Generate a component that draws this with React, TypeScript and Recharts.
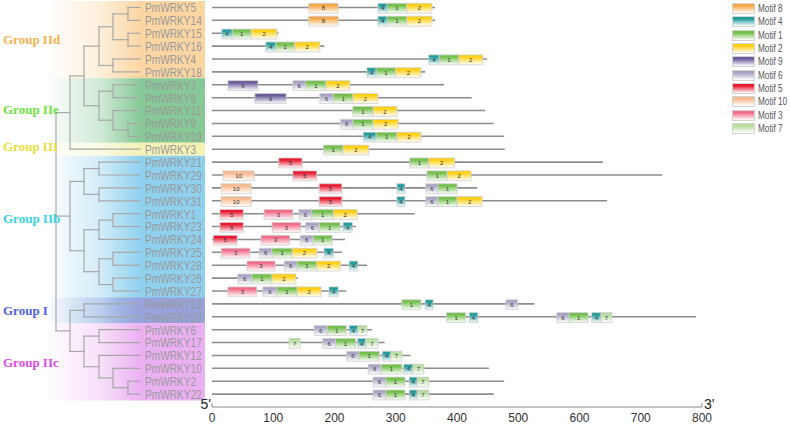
import React from "react";
import {
  ComposedChart,
  XAxis,
  YAxis,
  Scatter,
  ReferenceArea,
  ReferenceLine,
  ReferenceDot,
} from "recharts";

// gene order (top to bottom)
const genes = [
  "PmWRKY5", "PmWRKY14", "PmWRKY15", "PmWRKY16", "PmWRKY4", "PmWRKY18",
  "PmWRKY7", "PmWRKY8", "PmWRKY11", "PmWRKY9", "PmWRKY19", "PmWRKY3",
  "PmWRKY21", "PmWRKY29", "PmWRKY30", "PmWRKY31", "PmWRKY1", "PmWRKY23",
  "PmWRKY24", "PmWRKY25", "PmWRKY28", "PmWRKY26", "PmWRKY27", "PmWRKY13",
  "PmWRKY20", "PmWRKY6", "PmWRKY17", "PmWRKY12", "PmWRKY10", "PmWRKY2",
  "PmWRKY22",
];

const proteinLengths = [
  364, 364, 109, 183, 449, 348, 379, 424, 446, 460, 477, 478, 638, 735, 433,
  645, 331, 235, 217, 212, 253, 140, 219, 526, 790, 261, 282, 324, 452, 477,
  460,
];

// [gene, motif, start, end]
const motifHits: [string, number, number, number][] = [
  ["PmWRKY5", 8, 158, 206], ["PmWRKY5", 4, 271, 286], ["PmWRKY5", 1, 286, 318], ["PmWRKY5", 2, 318, 359],
  ["PmWRKY14", 8, 158, 206], ["PmWRKY14", 4, 271, 286], ["PmWRKY14", 1, 286, 318], ["PmWRKY14", 2, 318, 359],
  ["PmWRKY15", 4, 16, 33], ["PmWRKY15", 1, 33, 64], ["PmWRKY15", 2, 64, 106],
  ["PmWRKY16", 4, 88, 104], ["PmWRKY16", 1, 104, 135], ["PmWRKY16", 2, 135, 176],
  ["PmWRKY4", 4, 354, 371], ["PmWRKY4", 1, 371, 403], ["PmWRKY4", 2, 403, 442],
  ["PmWRKY18", 4, 253, 268], ["PmWRKY18", 1, 268, 300], ["PmWRKY18", 2, 300, 341],
  ["PmWRKY7", 9, 26, 75], ["PmWRKY7", 6, 132, 153], ["PmWRKY7", 1, 153, 186], ["PmWRKY7", 2, 186, 225],
  ["PmWRKY8", 9, 70, 121], ["PmWRKY8", 6, 176, 198], ["PmWRKY8", 1, 198, 230], ["PmWRKY8", 2, 230, 271],
  ["PmWRKY11", 1, 230, 263], ["PmWRKY11", 2, 263, 302],
  ["PmWRKY9", 6, 210, 230], ["PmWRKY9", 1, 230, 263], ["PmWRKY9", 2, 263, 304],
  ["PmWRKY19", 4, 247, 268], ["PmWRKY19", 1, 268, 302], ["PmWRKY19", 2, 302, 341],
  ["PmWRKY3", 1, 182, 214], ["PmWRKY3", 2, 214, 256],
  ["PmWRKY21", 5, 109, 147], ["PmWRKY21", 1, 323, 354], ["PmWRKY21", 2, 354, 396],
  ["PmWRKY29", 10, 18, 69], ["PmWRKY29", 5, 132, 171], ["PmWRKY29", 1, 351, 384], ["PmWRKY29", 2, 384, 423],
  ["PmWRKY30", 10, 15, 64], ["PmWRKY30", 5, 175, 212], ["PmWRKY30", 4, 302, 315], ["PmWRKY30", 6, 349, 369], ["PmWRKY30", 1, 369, 400],
  ["PmWRKY31", 10, 15, 64], ["PmWRKY31", 5, 175, 212], ["PmWRKY31", 4, 302, 315], ["PmWRKY31", 6, 349, 369], ["PmWRKY31", 1, 369, 400], ["PmWRKY31", 2, 400, 441],
  ["PmWRKY1", 5, 13, 51], ["PmWRKY1", 3, 85, 132], ["PmWRKY1", 6, 142, 163], ["PmWRKY1", 1, 163, 198], ["PmWRKY1", 2, 198, 237],
  ["PmWRKY23", 5, 13, 51], ["PmWRKY23", 3, 98, 145], ["PmWRKY23", 6, 153, 175], ["PmWRKY23", 1, 175, 209], ["PmWRKY23", 4, 214, 229],
  ["PmWRKY24", 5, 2, 41], ["PmWRKY24", 3, 80, 127], ["PmWRKY24", 6, 144, 165], ["PmWRKY24", 1, 165, 196],
  ["PmWRKY25", 3, 15, 62], ["PmWRKY25", 6, 77, 98], ["PmWRKY25", 1, 98, 131], ["PmWRKY25", 2, 131, 171], ["PmWRKY25", 4, 183, 198],
  ["PmWRKY28", 3, 57, 103], ["PmWRKY28", 6, 118, 139], ["PmWRKY28", 1, 139, 171], ["PmWRKY28", 2, 171, 210], ["PmWRKY28", 4, 224, 238],
  ["PmWRKY26", 6, 42, 65], ["PmWRKY26", 1, 65, 98], ["PmWRKY26", 2, 98, 137],
  ["PmWRKY27", 3, 26, 73], ["PmWRKY27", 6, 83, 106], ["PmWRKY27", 1, 106, 139], ["PmWRKY27", 2, 139, 178], ["PmWRKY27", 4, 191, 206],
  ["PmWRKY13", 1, 310, 341], ["PmWRKY13", 4, 348, 361], ["PmWRKY13", 6, 480, 499],
  ["PmWRKY20", 1, 383, 414], ["PmWRKY20", 4, 420, 434], ["PmWRKY20", 6, 563, 583], ["PmWRKY20", 1, 583, 614], ["PmWRKY20", 4, 620, 635], ["PmWRKY20", 7, 635, 653],
  ["PmWRKY6", 6, 167, 188], ["PmWRKY6", 1, 188, 219], ["PmWRKY6", 4, 224, 238], ["PmWRKY6", 7, 238, 253],
  ["PmWRKY17", 7, 126, 144], ["PmWRKY17", 6, 181, 202], ["PmWRKY17", 1, 202, 234], ["PmWRKY17", 4, 238, 251], ["PmWRKY17", 7, 251, 271],
  ["PmWRKY12", 6, 220, 240], ["PmWRKY12", 1, 240, 273], ["PmWRKY12", 4, 278, 292], ["PmWRKY12", 7, 292, 310],
  ["PmWRKY10", 6, 255, 276], ["PmWRKY10", 1, 276, 310], ["PmWRKY10", 4, 313, 328], ["PmWRKY10", 7, 328, 346],
  ["PmWRKY2", 6, 263, 284], ["PmWRKY2", 1, 284, 315], ["PmWRKY2", 4, 322, 335], ["PmWRKY2", 7, 335, 354],
  ["PmWRKY22", 6, 263, 284], ["PmWRKY22", 1, 284, 315], ["PmWRKY22", 4, 322, 335], ["PmWRKY22", 7, 335, 354],
];

const motifOrder = [8, 4, 1, 2, 9, 6, 5, 10, 3, 7];
const motifColors = [
  "#f6a544", "#1e9b9b", "#72bf4a", "#ffcf10", "#6b5b9a",
  "#a8a3c4", "#e8182f", "#f9b98e", "#f06c88", "#b5dd9d",
];

const axisTicks = [0, 100, 200, 300, 400, 500, 600, 700, 800];

// tree: [node depth, children] or leaf name
type TreeNode = string | [number, TreeNode[]];
const leafDepth = 84;
const tree: TreeNode = [0, [
  [14, [
    [28, [
      [43, [
        [57, [[72, ["PmWRKY5", "PmWRKY14"]], [72, ["PmWRKY15", "PmWRKY16"]]]],
        [57, ["PmWRKY4", "PmWRKY18"]],
      ]],
      [43, [
        [57, ["PmWRKY7", "PmWRKY8"]],
        [57, ["PmWRKY11", [72, ["PmWRKY9", "PmWRKY19"]]]],
      ]],
    ]],
    "PmWRKY3",
  ]],
  [14, [
    [28, [[43, ["PmWRKY21", "PmWRKY29"]], [43, ["PmWRKY30", "PmWRKY31"]]]],
    [28, [
      [43, [[57, ["PmWRKY1", "PmWRKY23"]], "PmWRKY24"]],
      [43, [[57, ["PmWRKY25", "PmWRKY28"]], [57, ["PmWRKY26", "PmWRKY27"]]]],
    ]],
  ]],
  [14, [
    [28, ["PmWRKY13", "PmWRKY20"]],
    [28, [
      [43, ["PmWRKY6", "PmWRKY17"]],
      [43, ["PmWRKY12", [57, ["PmWRKY10", [72, ["PmWRKY2", "PmWRKY22"]]]]]],
    ]],
  ]],
]];

const groupNames = ["Group IId", "Group IIe", "Group III", "Group IIb", "Group I", "Group IIc"];
const groupRows: [number, number][] = [[-0.5, 5.5], [5.5, 10.5], [10.5, 11.5], [11.5, 24.5], [22.5, 24.5], [24.5, 30.5]];
const groupLabelRows = [2.5, 7.9, 10.8, 16.35, 23.5, 27.5];
const groupTextColors = ["#f6b34e", "#6ee640", "#e8e03a", "#35d5e6", "#4f5fe0", "#e048e8"];
const groupBandColors = ["#fbd6a2", "#86c896", "#f3f2b4", "#8fd0ee", "#98a2dc", "#ebb0f2"];

type Seg = { x1: number; y1: number; x2: number; y2: number };
function layoutTree(node: TreeNode, segs: Seg[]): { x: number; y: number } {
  if (typeof node === "string") return { x: leafDepth, y: genes.indexOf(node) };
  const [d, kids] = node;
  const pts = kids.map((k) => layoutTree(k, segs));
  const ys = pts.map((p) => p.y);
  const y0 = Math.min(...ys);
  const y1 = Math.max(...ys);
  segs.push({ x1: d, y1: y0, x2: d, y2: y1 });
  pts.forEach((p) => segs.push({ x1: d, y1: p.y, x2: p.x, y2: p.y }));
  return { x: d, y: (y0 + y1) / 2 };
}
const treeSegs: Seg[] = [];
layoutTree(tree, treeSegs);

const leafData = genes.map((g, i) => ({ name: g, x: leafDepth, y: i }));
const endData = genes.map((g, i) => ({ name: g, x: proteinLengths[i], y: i }));

const sans = "'Liberation Sans', Arial, sans-serif";
const rowDomain: [number, number] = [-0.5, 31];

// gene names are set in a condensed face in the figure
const LeafLabel = (p: any) => (
  <text
    transform={`translate(${p.cx + 5},${p.cy}) scale(0.75,1)`}
    dy="0.36em"
    fill="#9a9a9a"
    fontSize={13.5}
    fontFamily={sans}
  >
    {p.payload.name}
  </text>
);

function TreePanel() {
  return (
    <ComposedChart width={212} height={425} data={leafData} margin={{ top: 1, right: 0, bottom: 18, left: 0 }}>
      <defs>
        {groupBandColors.map((c, i) => (
          <linearGradient key={i} id={`band${i}`} x1="0" y1="0" x2="1" y2="0">
            <stop offset="0" stopColor={c} stopOpacity={0} />
            <stop offset="0.35" stopColor={c} stopOpacity={0.4} />
            <stop offset="0.6" stopColor={c} stopOpacity={1} />
            <stop offset="1" stopColor={c} stopOpacity={1} />
          </linearGradient>
        ))}
      </defs>
      <XAxis type="number" dataKey="x" domain={[-56, 156]} allowDataOverflow hide />
      <YAxis type="number" dataKey="y" domain={rowDomain} reversed allowDataOverflow hide />
      {groupRows.map(([a, b], i) => (
        <ReferenceArea key={`b${i}`} x1={-11} x2={149} y1={a} y2={b} fill={`url(#band${i})`} fillOpacity={1} stroke="none" />
      ))}
      {treeSegs.map((s, i) => (
        <ReferenceLine
          key={`t${i}`}
          segment={[{ x: s.x1, y: s.y1 }, { x: s.x2, y: s.y2 }]}
          stroke="#a8a8a8"
          strokeWidth={1.2}
          strokeLinecap="square"
        />
      ))}
      <Scatter data={leafData} isAnimationActive={false} shape={LeafLabel} />
      {groupNames.map((n, i) => (
        <ReferenceDot
          key={n}
          x={-56}
          y={groupLabelRows[i]}
          r={0}
          fill="none"
          stroke="none"
          label={{
            value: n,
            position: "right",
            offset: 3,
            fill: groupTextColors[i],
            fontSize: 13,
            fontWeight: "bold",
            fontFamily: "'Liberation Serif', 'Times New Roman', serif",
          }}
        />
      ))}
    </ComposedChart>
  );
}

function MotifPanel() {
  return (
    <ComposedChart width={790} height={425} data={endData} margin={{ top: 1, right: 88, bottom: 0, left: 212 }}>
      <defs>
        {motifOrder.map((m, i) => (
          <linearGradient key={m} id={`motif${m}`} x1="0" y1="0" x2="0" y2="1">
            <stop offset="0" stopColor={motifColors[i]} />
            <stop offset="0.2" stopColor={motifColors[i]} />
            <stop offset="1" stopColor="#ffffff" />
          </linearGradient>
        ))}
      </defs>
      <XAxis
        type="number"
        dataKey="x"
        domain={[0, 800]}
        ticks={axisTicks}
        allowDataOverflow
        height={18}
        tickLine={false}
        tickSize={4}
        tickMargin={2}
        axisLine={{ stroke: "#8a8a8a", strokeWidth: 1.2 }}
        tick={{ fontSize: 12, fill: "#333", fontFamily: sans }}
      />
      <YAxis type="number" dataKey="y" domain={rowDomain} reversed allowDataOverflow hide />
      <Scatter data={endData} isAnimationActive={false} shape={() => <g />} />
      {genes.map((g, i) => (
        <ReferenceArea
          key={`l${g}`}
          x1={0}
          x2={proteinLengths[i]}
          y1={i - 0.06}
          y2={i + 0.06}
          fill="#8c8c8c"
          fillOpacity={1}
          stroke="none"
        />
      ))}
      {motifHits.map(([g, m, s, e], i) => {
        const row = genes.indexOf(g);
        return (
          <ReferenceArea
            key={`m${i}`}
            x1={s}
            x2={e}
            y1={row - 0.32}
            y2={row + 0.45}
            fill={`url(#motif${m})`}
            fillOpacity={1}
            stroke="#cfcfcf"
            strokeWidth={0.8}
            label={{ value: String(m), position: "center", fontSize: 6, fill: "#333", fontFamily: sans }}
          />
        );
      })}
      <ReferenceLine segment={[{ x: 0, y: 31 }, { x: 0, y: 30.7 }]} stroke="#8a8a8a" />
      <ReferenceLine segment={[{ x: 800, y: 31 }, { x: 800, y: 30.7 }]} stroke="#8a8a8a" />
      <ReferenceDot x={0} y={30.78} r={0} fill="none" stroke="none"
        label={{ value: "5'", position: "left", offset: 1, fontSize: 14, fill: "#222", fontFamily: sans }} />
      <ReferenceDot x={800} y={30.78} r={0} fill="none" stroke="none"
        label={{ value: "3'", position: "right", offset: 2, fontSize: 14, fill: "#222", fontFamily: sans }} />
    </ComposedChart>
  );
}

function MotifLegend() {
  return (
    <div style={{ position: "absolute", left: 732, top: 2 }}>
      {motifOrder.map((m, i) => (
        <div key={m} style={{ display: "flex", alignItems: "center", height: 13.33, whiteSpace: "nowrap" }}>
          <div
            style={{
              width: 21,
              height: 9,
              border: "1px solid #d4d4d4",
              background: `linear-gradient(to bottom, ${motifColors[i]} 0%, ${motifColors[i]} 20%, #ffffff 100%)`,
            }}
          />
          <span
            style={{
              display: "inline-block",
              marginLeft: 3,
              fontSize: 10,
              color: "#555",
              fontFamily: sans,
              transform: "scaleX(0.82)",
              transformOrigin: "left center",
            }}
          >
            Motif {m}
          </span>
        </div>
      ))}
    </div>
  );
}

export default function App() {
  return (
    <div style={{ position: "absolute", left: 0, top: 0, width: 790, height: 425, background: "#fff" }}>
      <div style={{ position: "absolute", left: 0, top: 0 }}>
        <TreePanel />
      </div>
      <div style={{ position: "absolute", left: 0, top: 0 }}>
        <MotifPanel />
      </div>
      <MotifLegend />
    </div>
  );
}
